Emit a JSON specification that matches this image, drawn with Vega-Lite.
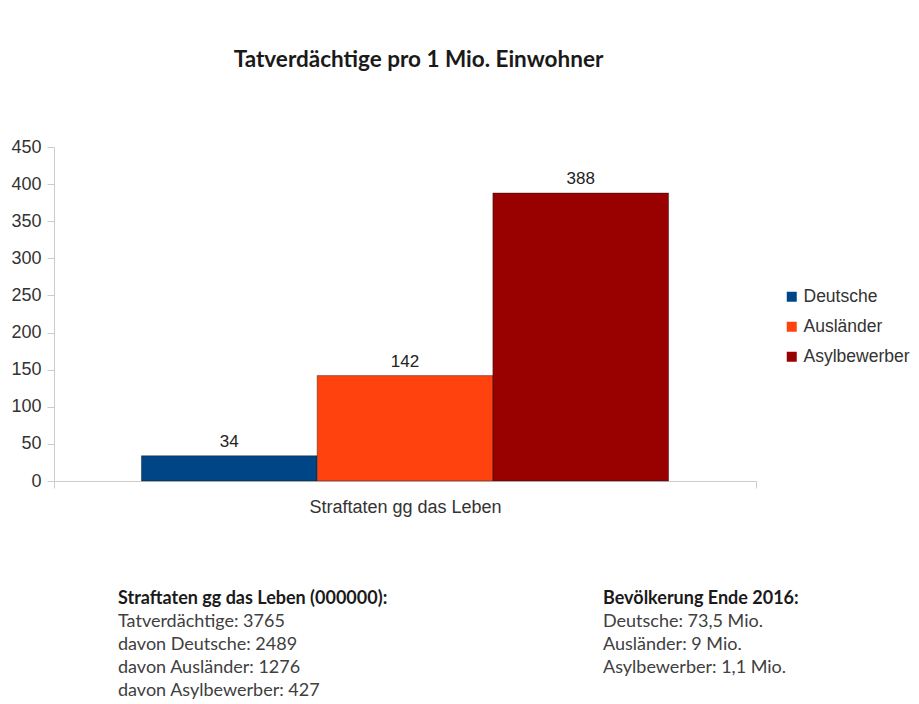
{
  "$schema": "https://vega.github.io/schema/vega-lite/v6.json",
  "background": "white",
  "padding": {"left": 10, "top": 48, "right": 5, "bottom": 5},
  "spacing": 71,
  "config": {"view": {"stroke": null}, "font": "Liberation Sans"},
  "datasets": {
    "bars": [
      {"Kategorie": "Straftaten gg das Leben", "Gruppe": "Deutsche", "Wert": 34},
      {"Kategorie": "Straftaten gg das Leben", "Gruppe": "Ausländer", "Wert": 142},
      {"Kategorie": "Straftaten gg das Leben", "Gruppe": "Asylbewerber", "Wert": 388}
    ],
    "notes": [
      {"block": "links", "line": 0, "heading": true, "text": "Straftaten gg das Leben (000000):"},
      {"block": "links", "line": 1, "heading": false, "text": "Tatverdächtige: 3765"},
      {"block": "links", "line": 2, "heading": false, "text": "davon Deutsche: 2489"},
      {"block": "links", "line": 3, "heading": false, "text": "davon Ausländer: 1276"},
      {"block": "links", "line": 4, "heading": false, "text": "davon Asylbewerber: 427"},
      {"block": "rechts", "line": 0, "heading": true, "text": "Bevölkerung Ende 2016:"},
      {"block": "rechts", "line": 1, "heading": false, "text": "Deutsche: 73,5 Mio."},
      {"block": "rechts", "line": 2, "heading": false, "text": "Ausländer: 9 Mio."},
      {"block": "rechts", "line": 3, "heading": false, "text": "Asylbewerber: 1,1 Mio."}
    ]
  },
  "vconcat": [
    {
      "title": {
        "text": "Tatverdächtige pro 1 Mio. Einwohner",
        "anchor": "middle",
        "frame": "group",
        "font": "Lato",
        "fontSize": 22.5,
        "fontWeight": "bold",
        "color": "#1a1a1a",
        "offset": 67,
        "dx": 13.5
      },
      "width": 702,
      "height": 334,
      "data": {"name": "bars"},
      "encoding": {
        "x": {
          "field": "Kategorie",
          "type": "nominal",
          "scale": {"paddingOuter": 0, "paddingInner": 0},
          "axis": {
            "title": null,
            "labelAngle": 0,
            "labelFontSize": 18,
            "labelLimit": 0,
            "labelColor": "#333333",
            "labelPadding": 10,
            "domainColor": "#cccccc",
            "tickColor": "#cccccc",
            "tickBand": "extent",
            "tickSize": 7
          }
        },
        "xOffset": {
          "field": "Gruppe",
          "type": "nominal",
          "sort": ["Deutsche", "Ausländer", "Asylbewerber"],
          "scale": {"paddingInner": 0, "paddingOuter": 0.4975}
        },
        "y": {
          "field": "Wert",
          "type": "quantitative",
          "scale": {"domain": [0, 450]},
          "axis": {
            "title": null,
            "values": [0, 50, 100, 150, 200, 250, 300, 350, 400, 450],
            "grid": false,
            "labelFontSize": 18,
            "labelColor": "#333333",
            "labelPadding": 6,
            "domainColor": "#cccccc",
            "tickColor": "#cccccc",
            "tickSize": 7
          }
        }
      },
      "layer": [
        {
          "mark": {"type": "bar", "strokeWidth": 1, "strokeOpacity": 0.35, "stroke": "#000000"},
          "encoding": {
            "color": {
              "field": "Gruppe",
              "type": "nominal",
              "sort": ["Deutsche", "Ausländer", "Asylbewerber"],
              "scale": {
                "domain": ["Deutsche", "Ausländer", "Asylbewerber"],
                "range": ["#004586", "#ff420e", "#990000"]
              },
              "legend": {
                "title": null,
                "orient": "none",
                "legendX": 729,
                "legendY": 141,
                "symbolType": "square",
                "symbolSize": 100,
                "symbolStrokeWidth": 0,
                "labelFontSize": 17.5,
                "labelLimit": 0,
                "labelColor": "#333333",
                "rowPadding": 11,
                "labelOffset": 3
              }
            }
          }
        },
        {
          "mark": {"type": "text", "baseline": "bottom", "dy": -5, "fontSize": 17, "color": "#222222"},
          "encoding": {"text": {"field": "Wert", "type": "quantitative"}}
        }
      ]
    },
    {
      "width": 613,
      "height": 115,
      "data": {"name": "notes"},
      "encoding": {
        "x": {
          "field": "block",
          "type": "nominal",
          "scale": {"type": "point", "padding": 0.132},
          "axis": null
        },
        "y": {
          "field": "line",
          "type": "ordinal",
          "scale": {"type": "point", "padding": 0.5},
          "axis": null
        },
        "text": {"field": "text", "type": "nominal"}
      },
      "layer": [
        {
          "transform": [{"filter": "datum.heading"}],
          "mark": {"type": "text", "align": "left", "baseline": "middle", "font": "Lato", "fontSize": 18, "fontWeight": "bold", "color": "#1a1a1a"}
        },
        {
          "transform": [{"filter": "!datum.heading"}],
          "mark": {"type": "text", "align": "left", "baseline": "middle", "font": "Lato", "fontSize": 18, "color": "#404040"}
        }
      ]
    }
  ]
}
